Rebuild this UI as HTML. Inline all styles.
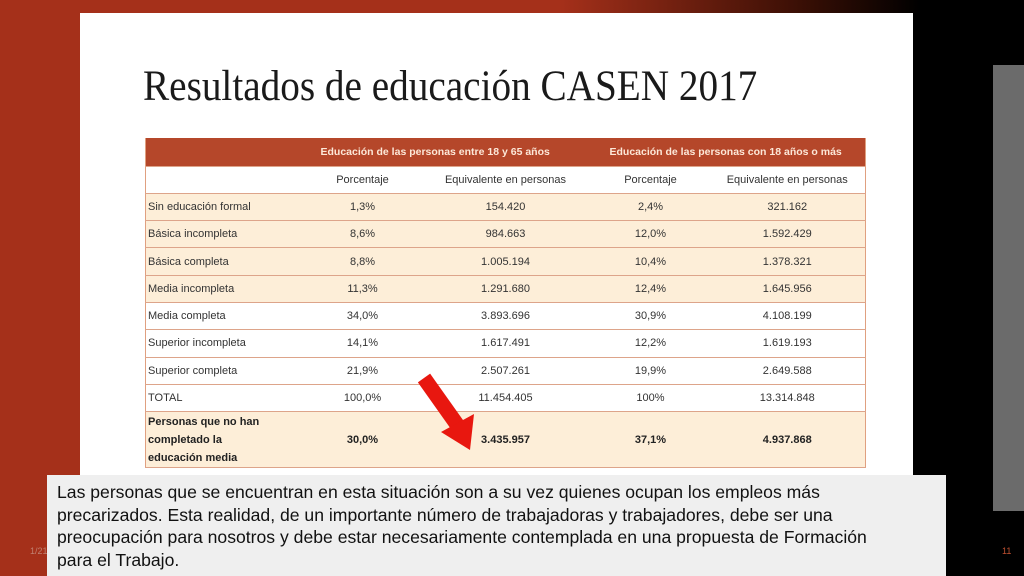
<!DOCTYPE html>
<html><head><meta charset="utf-8"><style>
*{margin:0;padding:0;box-sizing:border-box}
body{width:1024px;height:576px;overflow:hidden;position:relative;background:#000;font-family:"Liberation Sans",sans-serif}
.abs{position:absolute}
#bg{left:0;top:0;width:1024px;height:576px;background:linear-gradient(90deg,#a5301a 0,#a5301a 560px,#3a0f05 800px,#000 920px)}
#redl{left:0;top:0;width:80px;height:576px;background:#a5301a}
#black{left:913px;top:13px;width:111px;height:563px;background:#000}
#gray{left:993px;top:65px;width:31px;height:446px;background:#6b6b6b}
#slide{left:80px;top:13px;width:833px;height:563px;background:#fff}
#title{left:143px;top:62px;font-family:"Liberation Serif",serif;font-size:43px;color:#1a1a1a;white-space:nowrap;transform:scaleX(0.912);transform-origin:left}
table{position:absolute;left:145px;top:138px;width:721px;border-collapse:collapse;font-size:11px;color:#333;font-family:"Liberation Sans",sans-serif;border-left:1px solid #e0a080;border-right:1px solid #e0a080}
td{height:27.3px;text-align:center;border-bottom:1.5px solid #dda48a;padding:0}
td:first-child{text-align:left;padding-left:2px;width:160px}
tr.h td{background:#b5472a;color:#fde8d8;font-weight:bold;height:28px;font-size:10.5px}
tr.c td{background:#fdeed8}
tr.w td{background:#fff}
tr.last td{height:56px;font-weight:bold;color:#222;line-height:18px}
#box{left:47px;top:475px;width:899px;height:101px;background:#efefef;padding:6px 10px;font-size:17.6px;line-height:22.7px;color:#111;white-space:nowrap}
#date{left:30px;top:546px;font-size:9px;color:#c08070}
#pg{left:1002px;top:546px;font-size:9px;color:#c05030}
</style></head><body>
<div id="bg" class="abs"></div>
<div id="redl" class="abs"></div>
<div id="black" class="abs"></div>
<div id="gray" class="abs"></div>
<div id="slide" class="abs"></div>
<div id="title" class="abs">Resultados de educación CASEN 2017</div>
<table>
<tr class="h"><td></td><td colspan="2" style="text-align:left;padding-left:15px">Educación de las personas entre 18 y 65 años</td><td colspan="2" style="text-align:left;padding-left:18px">Educación de las personas con 18 años o más</td></tr>
<tr class="w"><td></td><td style="width:114px">Porcentaje</td><td style="width:172px">Equivalente en personas</td><td style="width:118px">Porcentaje</td><td>Equivalente en personas</td></tr>
<tr class="c"><td>Sin educación formal</td><td>1,3%</td><td>154.420</td><td>2,4%</td><td>321.162</td></tr>
<tr class="c"><td>Básica incompleta</td><td>8,6%</td><td>984.663</td><td>12,0%</td><td>1.592.429</td></tr>
<tr class="c"><td>Básica completa</td><td>8,8%</td><td>1.005.194</td><td>10,4%</td><td>1.378.321</td></tr>
<tr class="c"><td>Media incompleta</td><td>11,3%</td><td>1.291.680</td><td>12,4%</td><td>1.645.956</td></tr>
<tr class="w"><td>Media completa</td><td>34,0%</td><td>3.893.696</td><td>30,9%</td><td>4.108.199</td></tr>
<tr class="w"><td>Superior incompleta</td><td>14,1%</td><td>1.617.491</td><td>12,2%</td><td>1.619.193</td></tr>
<tr class="w"><td>Superior completa</td><td>21,9%</td><td>2.507.261</td><td>19,9%</td><td>2.649.588</td></tr>
<tr class="w"><td>TOTAL</td><td>100,0%</td><td>11.454.405</td><td>100%</td><td>13.314.848</td></tr>
<tr class="c last"><td>Personas que no han<br>completado la<br>educación media</td><td>30,0%</td><td>3.435.957</td><td>37,1%</td><td>4.937.868</td></tr>
</table>
<svg class="abs" style="left:0;top:0" width="1024" height="576">
<line x1="424" y1="378" x2="458" y2="426" stroke="#e8170f" stroke-width="15"/>
<polygon points="441,432 474,414 470,450" fill="#e8170f"/>
</svg>
<div id="date" class="abs">1/21/2020</div>
<div id="pg" class="abs">11</div>
<div id="box" class="abs">Las personas que se encuentran en esta situación son a su vez quienes ocupan los empleos más<br>precarizados. Esta realidad, de un importante número de trabajadoras y trabajadores, debe ser una<br>preocupación para nosotros y debe estar necesariamente contemplada en una propuesta de Formación<br>para el Trabajo.</div>
</body></html>
